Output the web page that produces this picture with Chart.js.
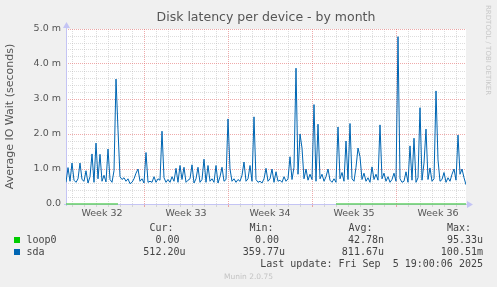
<!DOCTYPE html>
<html>
<head>
<meta charset="utf-8">
<script src="https://cdn.jsdelivr.net/npm/chart.js@4.4.1/dist/chart.umd.min.js"></script>
<style>
  body { margin: 0; background: #f0f0f0; }
  #wrap { position: relative; width: 497px; height: 287px; overflow: hidden; }
  canvas { position: absolute; left: 0; top: 0; }
  .t { position: absolute; white-space: pre; font-family: "DejaVu Sans Mono", monospace; font-size: 10px; color: #444; line-height: 12px; }
  .sq { position: absolute; width: 6px; height: 6px; }
</style>
</head>
<body>
<div id="wrap">
  <canvas id="chart" width="497" height="287"></canvas>
</div>
<script>
// samples every 4 hours, x in days since Mon 4 Aug (start of week 32)
const firstDay = 0.5;
const stepDays = 1 / 6;

// sda average IO wait, in milliseconds
const sdaValues = [
  0.62, 1.04, 0.65, 1.17, 0.68, 0.62, 0.72, 1.17, 0.70, 0.65,
  0.95, 0.60, 0.78, 1.43, 0.62, 1.74, 0.72, 1.42, 0.65, 0.82,
  0.63, 1.57, 0.70, 0.62, 0.95, 3.57, 2.12, 0.78, 0.70, 0.75,
  0.65, 0.72, 0.58, 0.62, 0.72, 0.88, 1.00, 0.65, 0.72, 0.60,
  1.47, 0.62, 0.65, 0.62, 0.78, 0.62, 0.72, 0.68, 2.08, 0.75,
  0.62, 0.70, 0.62, 0.78, 0.65, 1.02, 0.62, 1.10, 0.70, 1.05,
  0.62, 0.68, 0.72, 1.12, 0.60, 0.72, 1.05, 0.62, 0.70, 1.28,
  0.62, 1.10, 0.65, 0.72, 0.62, 1.10, 0.60, 0.78, 1.05, 0.65,
  0.70, 2.43, 1.00, 0.65, 0.72, 0.62, 0.70, 0.65, 0.82, 1.20,
  0.65, 0.72, 1.10, 0.65, 2.49, 0.70, 0.62, 0.65, 0.60, 0.72,
  1.02, 0.65, 0.72, 1.00, 0.62, 0.92, 0.65, 0.68, 0.62, 0.78,
  0.65, 0.72, 1.35, 0.70, 1.05, 3.88, 0.85, 2.00, 1.60, 0.72,
  1.00, 0.68, 0.85, 0.70, 2.84, 0.65, 2.28, 0.72, 0.85, 0.65,
  0.78, 1.00, 0.68, 0.62, 0.72, 0.62, 2.20, 0.72, 0.90, 0.65,
  1.80, 0.70, 2.30, 0.72, 0.65, 1.05, 1.60, 1.35, 0.70, 0.88,
  0.65, 0.75, 0.62, 1.06, 0.70, 0.85, 0.68, 2.26, 0.72, 0.88,
  0.65, 0.78, 0.62, 0.70, 0.88, 0.65, 4.78, 0.72, 0.62, 0.65,
  0.92, 0.62, 1.66, 0.68, 1.88, 0.62, 0.75, 2.75, 0.68, 1.17,
  2.14, 0.70, 1.03, 0.65, 0.72, 3.23, 1.26, 0.65, 0.70, 0.90,
  0.62, 0.75, 0.65, 0.85, 1.00, 0.68, 1.97, 0.85, 1.00, 0.75,
  0.55
];

// loop0 only has data at the start and the end of the month
const loop0Values = [
  0, 0, 0, 0, 0, 0, 0, 0, 0, 0,
  0, 0, 0, 0, 0, 0, 0, 0, 0, 0,
  0, 0, 0, 0, 0, 0, 0,
  ...Array(108).fill(null),
  0, 0, 0, 0, 0, 0, 0, 0, 0, 0,
  0, 0, 0, 0, 0, 0, 0, 0, 0, 0,
  0, 0, 0, 0, 0, 0, 0, 0, 0, 0,
  0, 0, 0, 0, 0, 0, 0, 0, 0, 0,
  0, 0, 0, 0, 0, 0, 0, 0, 0, 0,
  0, 0, 0, 0, 0, 0, 0, 0, 0, 0,
  0, 0, 0, 0, 0, 0
];

const weekNumbers = [32, 33, 34, 35, 36];
const yTickLabels = ["0.0", "1.0 m", "2.0 m", "3.0 m", "4.0 m", "5.0 m"];

const legendRows = [
  { name: "loop0", color: "#00cc00", cur: "0.00 ", min: "0.00 ", avg: "42.78n", max: "95.33u" },
  { name: "sda", color: "#0066b3", cur: "512.20u", min: "359.77u", avg: "811.67u", max: "100.51m" }
];
const lastUpdate = "Last update: Fri Sep  5 19:00:06 2025";

const toPoints = vals => vals.map((v, i) => ({ x: firstDay + i * stepDays, y: v }));

const red = "rgba(225, 100, 100, 0.55)";
const gray = "rgba(175, 175, 175, 0.42)";
const axisColor = "#c4c4f4";

const plotBg = {
  id: "plotBg",
  beforeDraw(chart) {
    const { ctx, chartArea: a } = chart;
    ctx.save();
    ctx.fillStyle = "#ffffff";
    ctx.fillRect(a.left, a.top, a.right - a.left, a.bottom - a.top);
    ctx.restore();
  },
  // axes go under the lines so loop0 stays visible on the zero line
  beforeDatasetsDraw(chart) {
    const { ctx, chartArea: a } = chart;
    ctx.save();
    ctx.strokeStyle = axisColor;
    ctx.fillStyle = axisColor;
    ctx.lineWidth = 1;
    ctx.beginPath();
    ctx.moveTo(a.left + 0.5, a.bottom + 2);
    ctx.lineTo(a.left + 0.5, a.top - 2);
    ctx.moveTo(a.left - 2, a.bottom + 0.5);
    ctx.lineTo(a.right + 2, a.bottom + 0.5);
    ctx.stroke();
    // arrow heads
    ctx.beginPath();
    ctx.moveTo(a.left + 0.5, a.top - 7);
    ctx.lineTo(a.left - 3, a.top - 1);
    ctx.lineTo(a.left + 4, a.top - 1);
    ctx.closePath();
    ctx.fill();
    ctx.beginPath();
    ctx.moveTo(a.right + 7, a.bottom + 0.5);
    ctx.lineTo(a.right + 1, a.bottom - 3);
    ctx.lineTo(a.right + 1, a.bottom + 4);
    ctx.closePath();
    ctx.fill();
    ctx.restore();
  }
};

const chart = new Chart(document.getElementById("chart"), {
  type: "line",
  data: {
    datasets: [
      {
        label: "sda",
        data: toPoints(sdaValues),
        borderColor: "#0066b3",
        borderWidth: 1,
        pointRadius: 0,
        tension: 0
      },
      {
        label: "loop0",
        data: toPoints(loop0Values),
        borderColor: "#66d066",
        borderWidth: 1.5,
        pointRadius: 0,
        spanGaps: false,
        clip: 3
      }
    ]
  },
  options: {
    responsive: false,
    animation: false,
    devicePixelRatio: 1,
    layout: { padding: { left: 0, right: 31, top: 0, bottom: 63 } },
    plugins: {
      legend: { display: false },
      tooltip: { enabled: false },
      title: {
        display: true,
        text: "Disk latency per device - by month",
        fullSize: false,
        color: "#555",
        font: { family: "DejaVu Sans", size: 12.5, weight: "normal" },
        padding: { top: 10, bottom: 4 }
      }
    },
    scales: {
      x: {
        type: "linear",
        min: firstDay,
        max: firstDay + 200 * stepDays,
        afterBuildTicks(scale) {
          const ticks = [];
          for (let v = 1; v <= 33.5; v += 0.5) ticks.push({ value: v });
          scale.ticks = ticks;
        },
        afterFit(scale) { scale.height = 20; },
        border: { display: false, dash: [1, 1] },
        grid: {
          drawOnChartArea: true,
          tickLength: 3,
          tickBorderDash: [],
          color(ctx) {
            const v = ctx.tick ? ctx.tick.value : 0;
            if (v % 7 === 0) return red;
            if (v % 1 === 0) return gray;
            return "rgba(0,0,0,0)";
          }
        },
        ticks: {
          autoSkip: false,
          maxRotation: 0,
          padding: 1,
          color: "#555",
          font: { family: "DejaVu Sans", size: 9.5 },
          callback(v) {
            const w = (v - 3.5) / 7;
            return Number.isInteger(w) && weekNumbers[w] ? "Week " + weekNumbers[w] : "";
          }
        }
      },
      y: {
        min: 0,
        max: 5,
        afterBuildTicks(scale) {
          const ticks = [];
          for (let i = 0; i <= 25; i++) ticks.push({ value: i / 5 });
          scale.ticks = ticks;
        },
        afterFit(scale) { scale.width = 66; },
        border: { display: false, dash: [1, 1] },
        grid: {
          drawTicks: false,
          color(ctx) {
            const i = Math.round((ctx.tick ? ctx.tick.value : 0) * 5);
            if (i === 0) return "rgba(0,0,0,0)";
            return i % 5 === 0 ? red : gray;
          }
        },
        ticks: {
          autoSkip: false,
          padding: 5,
          color: "#555",
          font: { family: "DejaVu Sans", size: 9.5 },
          callback(v) {
            const i = Math.round(v * 5);
            return i % 5 === 0 ? yTickLabels[i / 5] : "";
          }
        },
        title: {
          display: true,
          text: "Average IO Wait (seconds)",
          color: "#555",
          font: { family: "DejaVu Sans", size: 11 },
          padding: { top: 4, bottom: 0 }
        }
      }
    }
  },
  plugins: [plotBg]
});

// legend table and footer, like munin prints it under the graph
const wrap = document.getElementById("wrap");
function addText(txt, left, top, extra) {
  const d = document.createElement("div");
  d.className = "t";
  d.textContent = txt;
  d.style.left = left + "px";
  d.style.top = top + "px";
  if (extra) Object.assign(d.style, extra);
  wrap.appendChild(d);
  return d;
}
function addRight(txt, right, top) {
  return addText(txt, 0, top, { left: "auto", right: (497 - right) + "px", textAlign: "right" });
}

const headTop = 222;
addRight("Cur:", 173.5, headTop);
addRight("Min:", 273.5, headTop);
addRight("Avg:", 372.5, headTop);
addRight("Max:", 471, headTop);

legendRows.forEach((r, k) => {
  const top = 234 + k * 11.7;
  const sq = document.createElement("div");
  sq.className = "sq";
  sq.style.background = r.color;
  sq.style.left = "14px";
  sq.style.top = (top + 3) + "px";
  wrap.appendChild(sq);
  addText(r.name, 26.5, top);
  addRight(r.cur, 185.5, top);
  addRight(r.min, 285, top);
  addRight(r.avg, 384, top);
  addRight(r.max, 483, top);
});
addRight(lastUpdate, 483, 257.5);

addText("Munin 2.0.75", 0, 271, {
  width: "497px", textAlign: "center", fontFamily: "DejaVu Sans", fontSize: "7.5px", color: "#c4c4c4"
});
addText("RRDTOOL / TOBI OETIKER", 483, 5, {
  writingMode: "vertical-rl", fontFamily: "DejaVu Sans", fontSize: "7px", color: "#c8c8c8", lineHeight: "10px"
});
</script>
</body>
</html>
